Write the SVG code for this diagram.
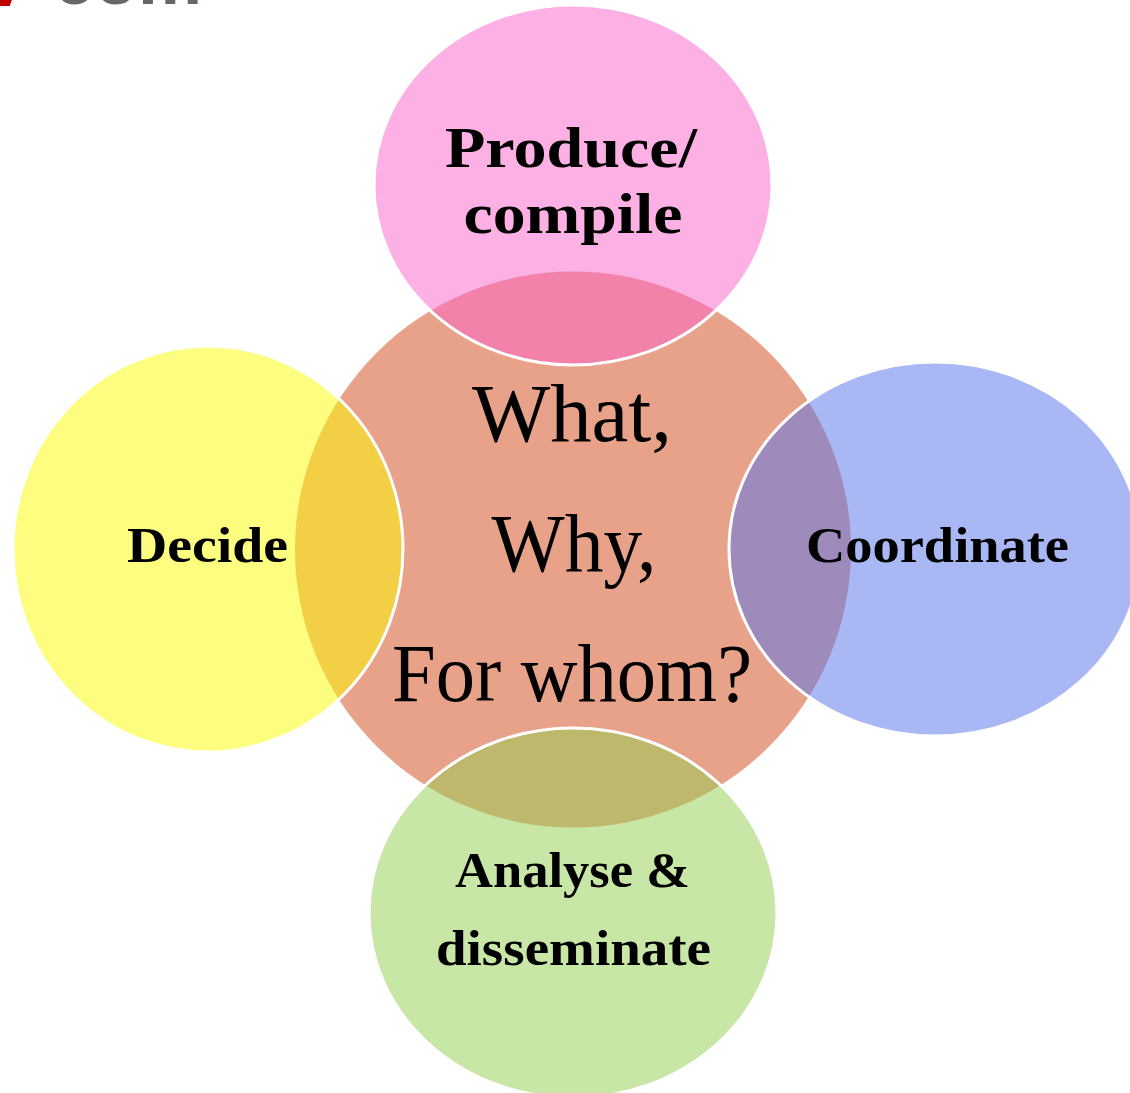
<svg xmlns="http://www.w3.org/2000/svg" width="1130" height="1093" viewBox="0 0 1130 1093">
<style>
.sat{stroke:#FFFFFF;stroke-width:3;fill-opacity:0.5}
.lbl{font-family:"Liberation Serif",serif;font-weight:bold;fill:#000;text-anchor:middle}
.big{font-family:"Liberation Serif",serif;fill:#000;text-anchor:middle;font-size:82px}
.logo{font-family:"Liberation Sans",Arial,sans-serif;font-weight:bold;font-size:72px}
</style>
<rect width="1130" height="1093" fill="#FFFFFF"/>
<g id="logo">
<text class="logo" x="-16" y="6" fill="#C00000">v</text>
<text class="logo" x="54" y="4" fill="#6B6566">com</text>
</g>
<g id="center">
<circle cx="573" cy="549.5" r="278" fill="#E8A28A"/>
</g>
<g id="produce">
<ellipse class="sat" cx="573" cy="185" rx="199" ry="180" fill="#FB61C9"/>
<text class="lbl" x="571" y="167" font-size="56" textLength="252" lengthAdjust="spacingAndGlyphs">Produce/</text>
<text class="lbl" x="573" y="233" font-size="56" textLength="219" lengthAdjust="spacingAndGlyphs">compile</text>
</g>
<g id="decide">
<ellipse class="sat" cx="208" cy="549" rx="195" ry="203" fill="#FBFB00"/>
<text class="lbl" x="207.5" y="562" font-size="50" textLength="161" lengthAdjust="spacingAndGlyphs">Decide</text>
</g>
<g id="coordinate">
<ellipse class="sat" cx="935" cy="549" rx="206" ry="187" fill="#5371EB"/>
<text class="lbl" x="937.5" y="562" font-size="50" textLength="263" lengthAdjust="spacingAndGlyphs">Coordinate</text>
</g>
<g id="analyse">
<ellipse class="sat" cx="573" cy="913" rx="204" ry="185" fill="#91CD4D"/>
<text class="lbl" x="572.5" y="887" font-size="50" textLength="235" lengthAdjust="spacingAndGlyphs">Analyse &amp;</text>
<text class="lbl" x="573.5" y="965" font-size="50" textLength="275" lengthAdjust="spacingAndGlyphs">disseminate</text>
</g>
<g id="question">
<text class="big" x="572" y="441" textLength="200" lengthAdjust="spacingAndGlyphs">What,</text>
<text class="big" x="574" y="571" textLength="165" lengthAdjust="spacingAndGlyphs">Why,</text>
<text class="big" x="572" y="701" textLength="360" lengthAdjust="spacingAndGlyphs">For whom?</text>
</g>
<g id="connectors"></g>
</svg>
